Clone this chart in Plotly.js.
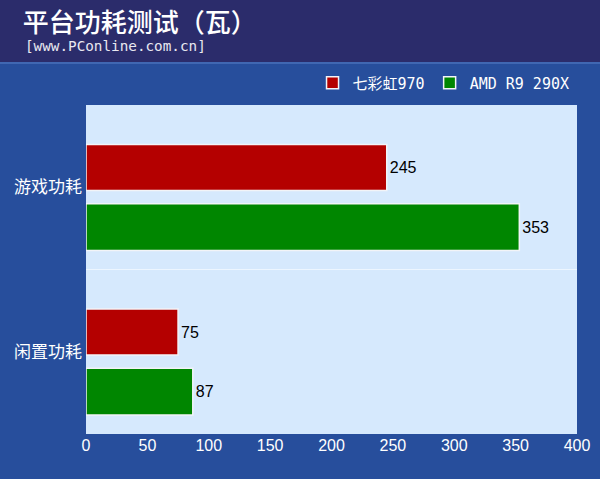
<!DOCTYPE html>
<html>
<head>
<meta charset="utf-8">
<script src="https://cdn.plot.ly/plotly-3.0.1.min.js"></script>
<style>html,body{margin:0;padding:0;background:#274e9c;}#chart{width:600px;height:479px;}</style>
</head>
<body>
<div id="chart"></div>
<script>
const categories = ['游戏功耗', '闲置功耗'];
const seriesNames = ['七彩虹970', 'AMD R9 290X'];
const colorful970 = [245, 75];
const amdR9290x = [353, 87];
const xTickValues = [0, 50, 100, 150, 200, 250, 300, 350, 400];
const chartTitle = '平台功耗测试（瓦）';
const chartSubtitle = '[www.PConline.com.cn]';

const barLine = {color: '#f2f4f8', width: 1.5};
const textFont = {family: 'Liberation Sans, Arial, sans-serif', size: 16, color: '#000000'};

const traces = [
  {
    type: 'bar', orientation: 'h', name: seriesNames[0],
    y: categories, x: colorful970,
    text: colorful970.map(String), textposition: 'outside', textfont: textFont,
    cliponaxis: false,
    offset: -0.26, width: 0.28,
    marker: {color: '#b40000', line: barLine},
    hoverinfo: 'x+name'
  },
  {
    type: 'bar', orientation: 'h', name: seriesNames[1],
    y: categories, x: amdR9290x,
    text: amdR9290x.map(String), textposition: 'outside', textfont: textFont,
    cliponaxis: false,
    offset: 0.10, width: 0.285,
    marker: {color: '#008600', line: barLine},
    hoverinfo: 'x+name'
  }
];

const layout = {
  width: 600, height: 479,
  margin: {l: 86, r: 23, t: 105, b: 45, pad: 0},
  paper_bgcolor: '#274e9c',
  plot_bgcolor: '#d6e9fd',
  barmode: 'overlay',
  showlegend: true,
  legend: {
    orientation: 'h', x: 0.995, xanchor: 'right', y: 1.067, yanchor: 'middle',
    bgcolor: 'rgba(0,0,0,0)',
    font: {family: 'DejaVu Sans Mono, Noto Sans CJK SC, monospace', size: 15, color: '#ffffff'},
    itemwidth: 30, traceorder: 'normal'
  },
  title: {
    text: chartTitle,
    x: 0.038, xanchor: 'left', y: 0.952, yanchor: 'middle',
    font: {family: 'Noto Sans CJK SC, sans-serif', size: 26, color: '#ffffff', weight: 500}
  },
  annotations: [{
    text: chartSubtitle, xref: 'paper', yref: 'paper',
    x: -0.128, xanchor: 'left', y: 1.179, yanchor: 'middle', showarrow: false,
    font: {family: 'DejaVu Sans Mono, monospace', size: 14.3, color: '#e8e8f0'}
  }],
  shapes: [
    {type: 'rect', xref: 'paper', yref: 'paper', x0: -0.2, x1: 1.1, y0: 1.131, y1: 1.35,
     fillcolor: '#2b2c6b', line: {width: 0}, layer: 'below'},
    {type: 'line', xref: 'paper', yref: 'paper', x0: -0.2, x1: 1.1, y0: 1.128, y1: 1.128,
     line: {color: '#4a70ba', width: 1.5}, layer: 'below'}
  ],
  xaxis: {
    range: [0, 400], tickvals: xTickValues, ticktext: xTickValues.map(String),
    showgrid: false, zeroline: false, showline: false, ticks: '',
    tickfont: {family: 'Liberation Sans, Arial, sans-serif', size: 16, color: '#ffffff'},
    fixedrange: true
  },
  yaxis: {
    type: 'category', categoryorder: 'array', categoryarray: categories,
    autorange: 'reversed', range: [1.5, -0.5],
    tickson: 'boundaries', showgrid: true, gridcolor: '#edf6ff', gridwidth: 1.5,
    zeroline: false, showline: false, ticks: '', ticklabelstandoff: 3,
    tickfont: {family: 'Noto Sans CJK SC, sans-serif', size: 17, color: '#ffffff'},
    fixedrange: true
  }
};

Plotly.newPlot('chart', traces, layout, {displayModeBar: false, staticPlot: true});
</script>
</body>
</html>
